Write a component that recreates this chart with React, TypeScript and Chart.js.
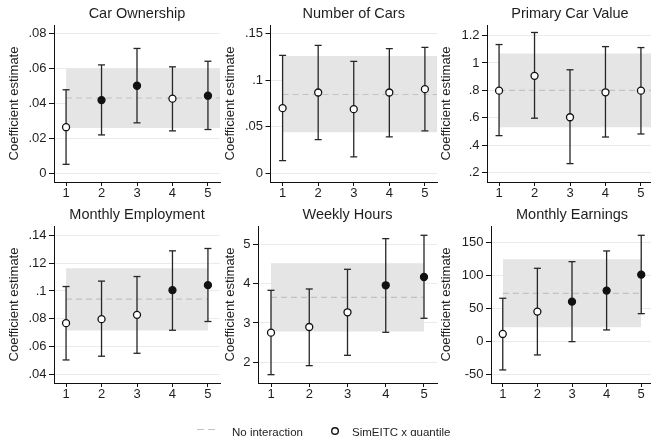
import React, { useEffect, useRef } from "react";
import { Chart, registerables } from "chart.js";

Chart.register(...registerables);

// ---------------- Data ----------------
const quantiles = [1, 2, 3, 4, 5];
const yAxisTitle = "Coefficient estimate";
const legendNoInteraction = "No interaction";
const legendInteraction = "SimEITC x quantile";

const carOwnTitle = "Car Ownership";
const carOwnEst = [0.0266, 0.0421, 0.0503, 0.0429, 0.0446];
const carOwnLo = [0.0054, 0.0222, 0.0291, 0.0245, 0.0253];
const carOwnHi = [0.048, 0.0622, 0.0716, 0.0611, 0.0643];
const carOwnFilled = [false, true, true, false, true];
const carOwnBand = [0.0262, 0.0601];
const carOwnMean = 0.0433;
const carOwnTicks = [0, 0.02, 0.04, 0.06, 0.08];
const carOwnTickLabels = ["0", ".02", ".04", ".06", ".08"];
const carOwnRange = [-0.0047, 0.085];

const numCarsTitle = "Number of Cars";
const numCarsEst = [0.07, 0.0868, 0.0689, 0.0868, 0.0904];
const numCarsLo = [0.0136, 0.0362, 0.0176, 0.0391, 0.0456];
const numCarsHi = [0.1267, 0.1374, 0.1202, 0.1339, 0.1353];
const numCarsFilled = [false, false, false, false, false];
const numCarsBand = [0.0441, 0.126];
const numCarsMean = 0.0847;
const numCarsTicks = [0, 0.05, 0.1, 0.15];
const numCarsTickLabels = ["0", ".05", ".1", ".15"];
const numCarsRange = [-0.0094, 0.1594];

const carValTitle = "Primary Car Value";
const carValEst = [0.798, 0.906, 0.604, 0.786, 0.798];
const carValLo = [0.47, 0.597, 0.266, 0.46, 0.482];
const carValHi = [1.134, 1.222, 0.95, 1.119, 1.112];
const carValFilled = [false, false, false, false, false];
const carValBand = [0.531, 1.068];
const carValMean = 0.8;
const carValTicks = [0.2, 0.4, 0.6, 0.8, 1, 1.2];
const carValTickLabels = [".2", ".4", ".6", ".8", "1", "1.2"];
const carValRange = [0.132, 1.2765];

const empTitle = "Monthly Employment";
const empEst = [0.0768, 0.0797, 0.0828, 0.1006, 0.1042];
const empLo = [0.0503, 0.053, 0.0551, 0.0717, 0.078];
const empHi = [0.1032, 0.1071, 0.1104, 0.1289, 0.1306];
const empFilled = [false, false, false, true, true];
const empBand = [0.0715, 0.1164];
const empMean = 0.0941;
const empTicks = [0.04, 0.06, 0.08, 0.1, 0.12, 0.14];
const empTickLabels = [".04", ".06", ".08", ".1", ".12", ".14"];
const empRange = [0.0337, 0.1468];

const hoursTitle = "Weekly Hours";
const hoursEst = [2.754, 2.898, 3.271, 3.958, 4.169];
const hoursLo = [1.686, 1.915, 2.178, 2.763, 3.119];
const hoursHi = [3.83, 3.864, 4.364, 5.144, 5.229];
const hoursFilled = [false, false, false, true, true];
const hoursBand = [2.78, 4.517];
const hoursMean = 3.653;
const hoursTicks = [2, 3, 4, 5];
const hoursTickLabels = ["2", "3", "4", "5"];
const hoursRange = [1.474, 5.465];

const earnTitle = "Monthly Earnings";
const earnEst = [11.1, 45, 60.1, 76.8, 101];
const earnLo = [-43.4, -20.7, -0.5, 17.2, 41.9];
const earnHi = [65.2, 110.6, 120.7, 136.9, 160.6];
const earnFilled = [false, false, true, true, true];
const earnBand = [21.2, 124.2];
const earnMean = 72.7;
const earnTicks = [-50, 0, 50, 100, 150];
const earnTickLabels = ["-50", "0", "50", "100", "150"];
const earnRange = [-63.2, 174.7];

const xRange = [0.66, 5.34];
const bandEndTopRow = 5.34;
const bandEndBottomRow = 5;

// -------------- Styling / layout --------------
const FONT = "'Liberation Sans', Arial, Helvetica, sans-serif";
const TEXT = "#1e1e1e";
const ROW_H = 201;
const COL_LEFT = [0, 216, 432];
const PLOT_RIGHT = [220, 437, 653];
const AXIS_X = [
  [54, 270.5, 487],
  [54, 258, 491],
];
const RIGHT_PAD = 8;

const panels = [
  { title: carOwnTitle, est: carOwnEst, lo: carOwnLo, hi: carOwnHi, filled: carOwnFilled, band: carOwnBand, mean: carOwnMean, ticks: carOwnTicks, labels: carOwnTickLabels, range: carOwnRange, bandEnd: bandEndTopRow },
  { title: numCarsTitle, est: numCarsEst, lo: numCarsLo, hi: numCarsHi, filled: numCarsFilled, band: numCarsBand, mean: numCarsMean, ticks: numCarsTicks, labels: numCarsTickLabels, range: numCarsRange, bandEnd: bandEndTopRow },
  { title: carValTitle, est: carValEst, lo: carValLo, hi: carValHi, filled: carValFilled, band: carValBand, mean: carValMean, ticks: carValTicks, labels: carValTickLabels, range: carValRange, bandEnd: bandEndTopRow },
  { title: empTitle, est: empEst, lo: empLo, hi: empHi, filled: empFilled, band: empBand, mean: empMean, ticks: empTicks, labels: empTickLabels, range: empRange, bandEnd: bandEndBottomRow },
  { title: hoursTitle, est: hoursEst, lo: hoursLo, hi: hoursHi, filled: hoursFilled, band: hoursBand, mean: hoursMean, ticks: hoursTicks, labels: hoursTickLabels, range: hoursRange, bandEnd: bandEndBottomRow },
  { title: earnTitle, est: earnEst, lo: earnLo, hi: earnHi, filled: earnFilled, band: earnBand, mean: earnMean, ticks: earnTicks, labels: earnTickLabels, range: earnRange, bandEnd: bandEndBottomRow },
];

function Panel({ spec, row, col }: { spec: any; row: number; col: number }) {
  const ref = useRef<HTMLCanvasElement>(null);
  const left = COL_LEFT[col];
  const width = PLOT_RIGHT[col] + RIGHT_PAD - left;
  const yAxisWidth = AXIS_X[row][col] - left;

  useEffect(() => {
    const errData: any[] = [];
    quantiles.forEach((q, i) => {
      errData.push({ x: q, y: spec.lo[i] });
      errData.push({ x: q, y: spec.hi[i] });
      errData.push({ x: q, y: null });
    });
    const chart = new Chart(ref.current as HTMLCanvasElement, {
      type: "line",
      data: {
        datasets: [
          {
            label: "points",
            order: 0,
            data: quantiles.map((q, i) => ({ x: q, y: spec.est[i] })),
            showLine: false,
            pointStyle: "circle",
            pointRadius: 3.5,
            pointBorderWidth: 1.3,
            pointBorderColor: "#111111",
            pointBackgroundColor: spec.filled.map((f: boolean) => (f ? "#111111" : "#ffffff")),
          },
          {
            label: "ci",
            order: 1,
            data: errData,
            spanGaps: false,
            borderColor: "#262626",
            borderWidth: 1.3,
            pointStyle: "line",
            pointRadius: 3.5,
            pointBorderWidth: 1.3,
            pointBorderColor: "#262626",
          },
          {
            label: legendNoInteraction,
            order: 2,
            data: [
              { x: quantiles[0], y: spec.mean },
              { x: spec.bandEnd, y: spec.mean },
            ],
            borderColor: "#c2c2c2",
            borderWidth: 1.2,
            borderDash: [6, 4],
            pointRadius: 0,
          },
          {
            label: "band",
            order: 3,
            data: [
              { x: quantiles[0], y: spec.band[1] },
              { x: spec.bandEnd, y: spec.band[1] },
            ],
            fill: { value: spec.band[0] },
            backgroundColor: "#e5e5e5",
            borderColor: "rgba(0,0,0,0)",
            borderWidth: 1,
            pointRadius: 0,
          },
        ],
      },
      options: {
        animation: false,
        responsive: false,
        devicePixelRatio: 1,
        events: [],
        layout: { padding: { left: 0, right: RIGHT_PAD, top: 0, bottom: 0 } },
        plugins: {
          legend: { display: false },
          tooltip: { enabled: false },
          title: {
            display: true,
            text: spec.title,
            fullSize: false,
            color: TEXT,
            font: { family: FONT, size: 14.5, weight: "normal" },
            padding: { top: 5.3, bottom: 2.3 },
          },
        },
        scales: {
          x: {
            type: "linear",
            min: xRange[0],
            max: xRange[1],
            grid: { display: true, drawOnChartArea: false, drawTicks: true, tickLength: 4, tickColor: "#111111", tickWidth: 1 },
            border: { display: true, color: "#111111", width: 1 },
            ticks: {
              color: TEXT,
              font: { family: FONT, size: 13 },
              padding: 0,
              maxRotation: 0,
              autoSkip: false,
              callback: (_v: any, i: number) => String(quantiles[i]),
            },
            afterBuildTicks: (s: any) => {
              s.ticks = quantiles.map((v) => ({ value: v }));
            },
            afterFit: (s: any) => {
              s.height = 19;
            },
          },
          y: {
            type: "linear",
            min: spec.range[0],
            max: spec.range[1],
            grid: { color: "#ebebeb", lineWidth: 1, drawTicks: true, tickLength: 5, tickColor: "#111111", tickWidth: 1 },
            border: { display: true, color: "#111111", width: 1 },
            ticks: {
              color: TEXT,
              font: { family: FONT, size: 13 },
              padding: 2.5,
              autoSkip: false,
              callback: (_v: any, i: number) => spec.labels[i],
            },
            afterBuildTicks: (s: any) => {
              s.ticks = spec.ticks.map((v: number) => ({ value: v }));
            },
            afterFit: (s: any) => {
              s.width = yAxisWidth;
            },
            title: {
              display: true,
              text: yAxisTitle,
              color: TEXT,
              font: { family: FONT, size: 13 },
              padding: { top: 6.7, bottom: 0 },
            },
          },
        },
      } as any,
    });
    return () => chart.destroy();
  }, []);

  return (
    <canvas
      ref={ref}
      width={width}
      height={ROW_H}
      style={{ position: "absolute", left, top: row * ROW_H, width, height: ROW_H, display: "block" }}
    />
  );
}

export default function App() {
  return (
    <div
      style={{
        position: "absolute",
        left: 0,
        top: 0,
        width: 651,
        height: 436,
        overflow: "hidden",
        background: "#ffffff",
      }}
    >
      {panels.map((p, k) => (
        <Panel key={k} spec={p} row={Math.floor(k / 3)} col={k % 3} />
      ))}
      <div style={{ position: "absolute", left: 0, top: 425, width: 651, height: 14, fontFamily: FONT, fontSize: 11.5, lineHeight: "14px", color: TEXT }}>
        <svg style={{ position: "absolute", left: 197, top: 3 }} width={22} height={3}>
          <line x1={0} y1={1.5} x2={22} y2={1.5} stroke="#c2c2c2" strokeWidth={1.2} strokeDasharray="7 4" />
        </svg>
        <span style={{ position: "absolute", left: 232, top: 0, whiteSpace: "nowrap" }}>{legendNoInteraction}</span>
        <svg style={{ position: "absolute", left: 330, top: 1 }} width={10} height={10}>
          <circle cx={5} cy={5} r={3.3} fill="#ffffff" stroke="#111111" strokeWidth={1.4} />
        </svg>
        <span style={{ position: "absolute", left: 352, top: 0, whiteSpace: "nowrap" }}>{legendInteraction}</span>
      </div>
    </div>
  );
}
